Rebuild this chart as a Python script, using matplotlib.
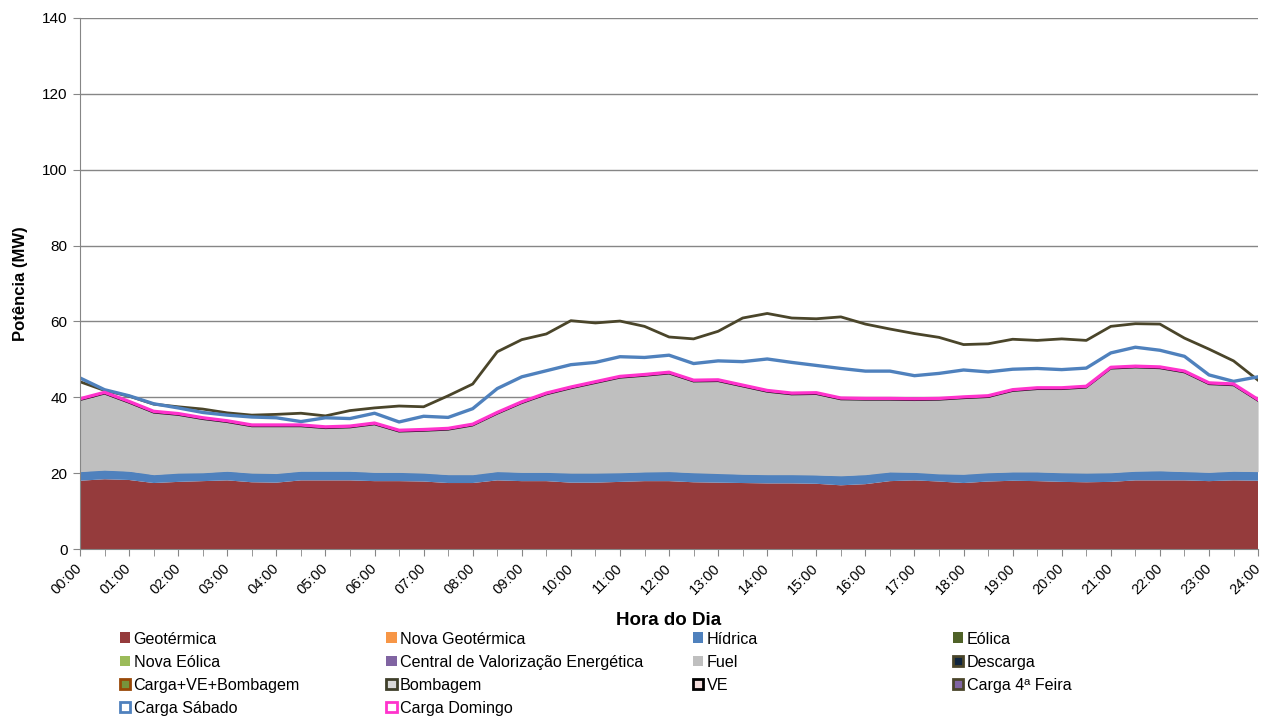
import numpy as np
import matplotlib.pyplot as plt
from matplotlib.patches import Rectangle

plt.rcParams['font.family'] = ['Liberation Sans', 'DejaVu Sans']

# half-hour steps, 00:00 .. 24:00
horas = np.arange(49) * 0.5
tick_labels = ['%02d:00' % h for h in range(25)]

geotermica = [18.0, 18.4, 18.2, 17.4, 17.7, 17.9, 18.1, 17.6, 17.5, 18.1,
              18.1, 18.1, 17.9, 17.9, 17.8, 17.4, 17.4, 18.1, 17.9, 17.9,
              17.5, 17.5, 17.7, 17.9, 17.9, 17.6, 17.5, 17.4, 17.3, 17.3,
              17.2, 16.8, 17.1, 17.9, 18.1, 17.8, 17.4, 17.8, 18.0, 17.9,
              17.7, 17.6, 17.7, 18.1, 18.1, 18.1, 17.9, 18.1, 18.0]
hidrica = [2.4, 2.4, 2.3, 2.2, 2.3, 2.2, 2.4, 2.4, 2.4, 2.4,
           2.4, 2.4, 2.3, 2.3, 2.2, 2.2, 2.2, 2.3, 2.3, 2.3,
           2.5, 2.5, 2.4, 2.4, 2.5, 2.5, 2.4, 2.3, 2.3, 2.3,
           2.3, 2.5, 2.5, 2.4, 2.1, 2.0, 2.3, 2.3, 2.3, 2.4,
           2.4, 2.4, 2.4, 2.4, 2.5, 2.3, 2.3, 2.4, 2.4]
# top of the supply stack (thin black line under the Sunday load)
oferta_total = [39.2, 40.9, 38.5, 35.9, 35.3, 34.2, 33.4, 32.3, 32.3, 32.3,
                31.8, 32.0, 32.8, 30.9, 31.1, 31.4, 32.5, 35.6, 38.4, 40.7,
                42.3, 43.7, 45.1, 45.6, 46.2, 44.1, 44.2, 42.8, 41.4, 40.7,
                40.8, 39.4, 39.3, 39.3, 39.2, 39.3, 39.7, 40.0, 41.6, 42.1,
                42.1, 42.5, 47.5, 47.8, 47.6, 46.5, 43.4, 43.1, 39.0]

carga_quarta = [44.1, 41.8, 40.3, 38.2, 37.5, 36.9, 35.9, 35.3, 35.5, 35.8,
                35.1, 36.5, 37.2, 37.7, 37.5, 40.4, 43.5, 52.0, 55.2, 56.7,
                60.2, 59.6, 60.1, 58.7, 55.9, 55.4, 57.4, 60.9, 62.1, 60.9,
                60.7, 61.2, 59.3, 58.0, 56.8, 55.8, 53.9, 54.1, 55.3, 55.0,
                55.4, 55.0, 58.7, 59.4, 59.3, 55.6, 52.7, 49.6, 44.5]
carga_sabado = [45.1, 42.0, 40.4, 38.3, 37.2, 36.0, 35.3, 34.8, 34.6, 33.6,
                34.6, 34.4, 35.8, 33.5, 35.0, 34.7, 37.0, 42.3, 45.4, 47.0,
                48.6, 49.2, 50.7, 50.5, 51.1, 48.9, 49.6, 49.4, 50.1, 49.2,
                48.4, 47.6, 46.9, 46.9, 45.7, 46.3, 47.2, 46.7, 47.4, 47.6,
                47.3, 47.7, 51.7, 53.2, 52.4, 50.8, 45.9, 44.2, 45.4]
carga_domingo = [39.6, 41.3, 38.9, 36.3, 35.7, 34.6, 33.8, 32.7, 32.7, 32.7,
                 32.2, 32.4, 33.2, 31.3, 31.5, 31.8, 32.9, 36.0, 38.8, 41.1,
                 42.7, 44.1, 45.5, 46.0, 46.6, 44.5, 44.6, 43.2, 41.8, 41.1,
                 41.2, 39.8, 39.7, 39.7, 39.6, 39.7, 40.1, 40.4, 42.0, 42.5,
                 42.5, 42.9, 47.9, 48.2, 48.0, 46.9, 43.8, 43.5, 39.4]

c_geo = '#953B3C'
c_hid = '#4F81BD'
c_fuel = '#BFBFBF'
c_olive = '#4A452A'
c_pink = '#FF33CC'

fig = plt.figure(figsize=(12.62, 7.16), dpi=100)
ax = fig.add_axes([0.0634, 0.2332, 0.9335, 0.7417])

geo = np.array(geotermica)
hid = np.array(hidrica)
ax.stackplot(horas, geo, hid, colors=[c_geo, c_hid], linewidth=0)
ax.fill_between(horas, geo + hid, oferta_total, color=c_fuel, linewidth=0)
ax.plot(horas, oferta_total, color='black', lw=1.0)

ax.plot(horas, carga_quarta, color=c_olive, lw=2.0)
ax.plot(horas, carga_sabado, color=c_hid, lw=2.4)
ax.plot(horas, carga_domingo, color=c_pink, lw=2.4)

ax.set_xlim(0, 24)
ax.set_ylim(0, 140)
ax.set_yticks(np.arange(0, 141, 20))
ax.set_xticks(np.arange(25))
ax.set_xticks(horas, minor=True)
ax.set_xticklabels(tick_labels, rotation=45, ha='right', va='center',
                   rotation_mode='anchor', fontsize=10.5)
ax.tick_params(axis='y', labelsize=11, length=5, color='#868686', pad=4)
ax.tick_params(axis='x', which='both', length=5, color='#868686', pad=7)
ax.grid(axis='y', color='#868686', lw=1)
ax.set_axisbelow(True)
for s in ['top', 'right']:
    ax.spines[s].set_visible(False)
for s in ['left', 'bottom']:
    ax.spines[s].set_color('#868686')
ax.set_xlabel('Hora do Dia', fontsize=13.5, fontweight='bold', labelpad=11)
ax.set_ylabel('Potência (MW)', fontsize=12, fontweight='bold', labelpad=10)


def sq(face, edge=None):
    if edge is None:
        return Rectangle((0, 0), 1, 1, facecolor=face, edgecolor='none')
    return Rectangle((0, 0), 1, 1, facecolor=face, edgecolor=edge, lw=2)


colunas = [
    [('Geotérmica', sq(c_geo)), ('Nova Eólica', sq('#9BBB59')),
     ('Carga+VE+Bombagem', sq('#77933C', '#984807')), ('Carga Sábado', sq('white', c_hid))],
    [('Nova Geotérmica', sq('#F79646')), ('Central de Valorização Energética', sq('#8064A2')),
     ('Bombagem', sq('#D9D9D9', '#3F3F2A')), ('Carga Domingo', sq('white', c_pink))],
    [('Hídrica', sq(c_hid)), ('Fuel', sq(c_fuel)), ('VE', sq('#F2DCDB', 'black'))],
    [('Eólica', sq('#4F6228')), ('Descarga', sq('#0F243E', '#4A452A')),
     ('Carga 4ª Feira', sq('#8064A2', c_olive))],
]
xs = [0.095, 0.306, 0.549, 0.755]
for x, col in zip(xs, colunas):
    fig.legend([h for _, h in col], [t for t, _ in col], loc='upper left',
               bbox_to_anchor=(x, 0.118), frameon=False, fontsize=11.6,
               handlelength=0.65, handleheight=0.65, handletextpad=0.2,
               labelspacing=0.5, borderaxespad=0, borderpad=0)

fig.savefig('out.png', dpi=100)
